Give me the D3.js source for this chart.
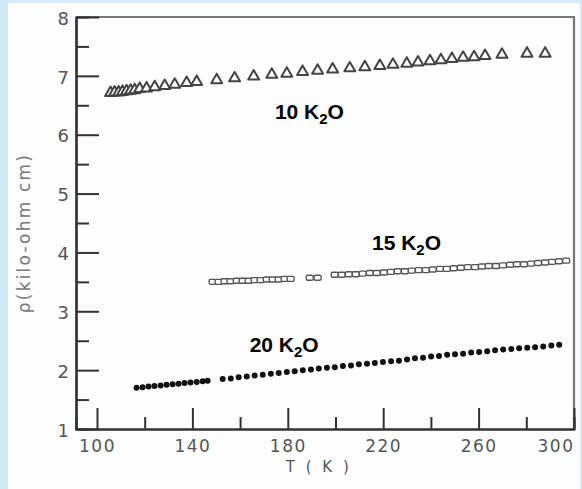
<!DOCTYPE html>
<html>
<head>
<meta charset="utf-8">
<script src="https://cdn.jsdelivr.net/npm/d3@7/dist/d3.min.js"></script>
<style>
  body { margin: 0; background: #d3eafb; }
  .tick text { font-family: 'DejaVu Sans', sans-serif; fill: #555; }
  .lbl { font-family: 'Liberation Sans', Arial, sans-serif; font-weight: bold; fill: #000; }
</style>
</head>
<body>
<div id="chart"></div>
<script>
// 10 K2O (triangles)
const temp10 = [105.7,107.4,109.1,110.7,112.4,114.1,115.8,117.9,120.8,124.2,128.4,132.6,137.6,141.8,150.2,
  157.7,165.7,173.3,179.6,186.2,192.5,198.8,206.0,212.3,218.6,224.1,229.9,234.6,239.6,244.2,248.8,253.5,
  258.1,262.7,269.8,280.3,287.9];
const rho10 = [6.71,6.72,6.72,6.73,6.74,6.75,6.76,6.78,6.79,6.81,6.83,6.85,6.88,6.90,6.93,
  6.96,6.99,7.02,7.04,7.07,7.09,7.11,7.13,7.15,7.17,7.19,7.21,7.23,7.25,7.27,7.29,7.31,
  7.32,7.34,7.36,7.38,7.38];

// 15 K2O (open squares)
const temp15 = [148.5,151.0,153.5,156.0,158.6,161.1,163.6,166.1,168.6,171.2,173.7,176.2,178.7,181.2,
  189.2,192.5,
  199.7,202.6,205.6,208.5,211.4,214.4,217.3,220.3,223.2,226.1,229.1,232.0,234.9,237.9,240.8,243.8,
  246.7,249.6,252.6,255.5,258.5,261.4,264.3,267.3,270.2,273.2,276.1,279.0,282.0,284.9,287.9,290.8,
  293.7,296.7];
const rho15 = [3.50,3.50,3.51,3.51,3.52,3.52,3.52,3.53,3.53,3.54,3.54,3.54,3.55,3.55,
  3.57,3.57,
  3.62,3.62,3.63,3.63,3.64,3.65,3.65,3.66,3.67,3.68,3.68,3.69,3.70,3.70,3.71,3.72,
  3.72,3.73,3.74,3.75,3.75,3.76,3.77,3.77,3.78,3.79,3.80,3.80,3.81,3.82,3.83,3.84,
  3.85,3.86];

// 20 K2O (filled dots)
const temp20 = [116.6,119.1,121.6,124.1,126.7,129.2,131.7,134.2,136.7,139.2,141.8,144.3,146.4,
  152.7,156.1,159.4,162.8,166.1,169.5,172.9,176.2,179.6,182.9,186.3,189.7,193.0,196.4,199.7,203.1,
  206.5,209.8,213.2,216.5,219.9,223.3,226.6,230.0,233.3,236.7,240.1,243.4,246.8,250.1,253.5,256.9,
  260.2,263.6,266.9,270.3,273.7,277.0,280.4,283.7,287.1,290.5,293.8];
const rho20 = [1.70,1.71,1.72,1.73,1.74,1.75,1.76,1.77,1.78,1.79,1.80,1.81,1.82,
  1.85,1.86,1.88,1.89,1.91,1.92,1.94,1.95,1.97,1.98,2.00,2.01,2.03,2.04,2.05,2.07,
  2.08,2.10,2.11,2.12,2.14,2.15,2.16,2.18,2.20,2.21,2.23,2.24,2.26,2.27,2.28,2.30,
  2.31,2.32,2.34,2.35,2.36,2.37,2.38,2.39,2.40,2.42,2.43];

const xMajor = [100, 140, 180, 220, 260, 300];
const xMinor = [120, 160, 200, 240, 280];
const yMajor = [1, 2, 3, 4, 5, 6, 7, 8];
const yMinor = [1.5, 2.5, 3.5, 4.5, 5.5, 6.5, 7.5];

const seriesLabels = [
  { num: '10', t: 174.6, r: 6.27 },
  { num: '15', t: 215.3, r: 4.04 },
  { num: '20', t: 164.0, r: 2.31 }
];

const W = 582, H = 489;
const margin = {top: 17, right: 8, bottom: 60, left: 76};
const width = W - margin.left - margin.right;
const height = H - margin.top - margin.bottom;

const svg = d3.select('#chart').append('svg')
  .attr('width', W)
  .attr('height', H);

// white panel on the light blue page
svg.append('rect')
  .attr('x', 8).attr('y', 3)
  .attr('width', W - 10).attr('height', H - 3)
  .attr('fill', '#fdfdfd');

const g = svg.append('g')
  .attr('transform', 'translate(' + margin.left + ',' + margin.top + ')');

const x = d3.scaleLinear().domain([91.2, 300]).range([0, width]);
const y = d3.scaleLinear().domain([1, 8]).range([height, 0]);

// top and right frame
g.append('path')
  .attr('d', 'M0,0H' + width + 'V' + height)
  .attr('fill', 'none')
  .attr('stroke', '#777')
  .attr('stroke-width', 2.2);

// axes: ticks point inward
g.append('g')
  .attr('class', 'x axis')
  .attr('transform', 'translate(0,' + height + ')')
  .call(d3.axisBottom(x).tickValues(xMinor).tickSize(-12).tickFormat(''));

g.append('g')
  .attr('class', 'x axis major')
  .attr('transform', 'translate(0,' + height + ')')
  .call(d3.axisBottom(x).tickValues(xMajor).tickSize(-21).tickSizeOuter(0).tickPadding(8));

g.append('g')
  .attr('class', 'y axis')
  .call(d3.axisLeft(y).tickValues(yMinor).tickSize(-13).tickFormat(''));

g.append('g')
  .attr('class', 'y axis')
  .call(d3.axisLeft(y).tickValues(yMajor).tickSize(-23).tickSizeOuter(0).tickPadding(7)
    .tickFormat(d3.format('d')));

g.selectAll('.axis path.domain').attr('stroke', '#333').attr('stroke-width', 2.2);
g.selectAll('.axis line').attr('stroke', '#333').attr('stroke-width', 2);
g.selectAll('.x.axis .tick text')
  .attr('font-size', 17)
  .attr('letter-spacing', 1.5)
  .attr('dy', '0.9em');
// last label sits inside the right edge
g.selectAll('.x.axis.major .tick text')
  .filter(d => d === 300)
  .attr('text-anchor', 'end');
g.selectAll('.y.axis .tick text')
  .attr('font-size', 18)
  .attr('dy', '0.4em');

// axis titles
g.append('text')
  .attr('x', x(193))
  .attr('y', height + 43)
  .attr('text-anchor', 'middle')
  .attr('font-family', 'DejaVu Sans, sans-serif')
  .attr('font-size', 15)
  .attr('letter-spacing', 3)
  .attr('fill', '#555')
  .text('T ( K )');

g.append('text')
  .attr('transform', 'translate(' + (30 - margin.left) + ',' + (233 - margin.top) + ') rotate(-90)')
  .attr('text-anchor', 'middle')
  .attr('font-family', 'DejaVu Sans, sans-serif')
  .attr('font-size', 17)
  .attr('letter-spacing', 2.2)
  .attr('fill', '#777')
  .text('\u03c1(kilo-ohm cm)');

// markers
const tri = d3.symbol().type(d3.symbolTriangle).size(52);
g.append('g').selectAll('path')
  .data(temp10.map((t, i) => [t, rho10[i]]))
  .join('path')
  .attr('d', tri)
  .attr('transform', d => 'translate(' + x(d[0]) + ',' + y(d[1]) + ')')
  .attr('fill', '#fff')
  .attr('stroke', '#444')
  .attr('stroke-width', 2)
  .attr('stroke-linejoin', 'round');

g.append('g').selectAll('rect')
  .data(temp15.map((t, i) => [t, rho15[i]]))
  .join('rect')
  .attr('x', d => x(d[0]) - 3.5)
  .attr('y', d => y(d[1]) - 2.5)
  .attr('width', 7)
  .attr('height', 5)
  .attr('rx', 1.5)
  .attr('fill', '#fff')
  .attr('stroke', '#555')
  .attr('stroke-width', 1.4);

g.append('g').selectAll('circle')
  .data(temp20.map((t, i) => [t, rho20[i]]))
  .join('circle')
  .attr('cx', d => x(d[0]))
  .attr('cy', d => y(d[1]))
  .attr('r', 3)
  .attr('fill', '#111');

// series labels
const lbl = g.append('g').selectAll('text')
  .data(seriesLabels)
  .join('text')
  .attr('class', 'lbl')
  .attr('x', d => x(d.t))
  .attr('y', d => y(d.r))
  .attr('font-size', 21);
lbl.append('tspan').text(d => d.num + ' K');
lbl.append('tspan').attr('dy', 5).attr('font-size', 15).text('2');
lbl.append('tspan').attr('dy', -5).text('O');
</script>
</body>
</html>
